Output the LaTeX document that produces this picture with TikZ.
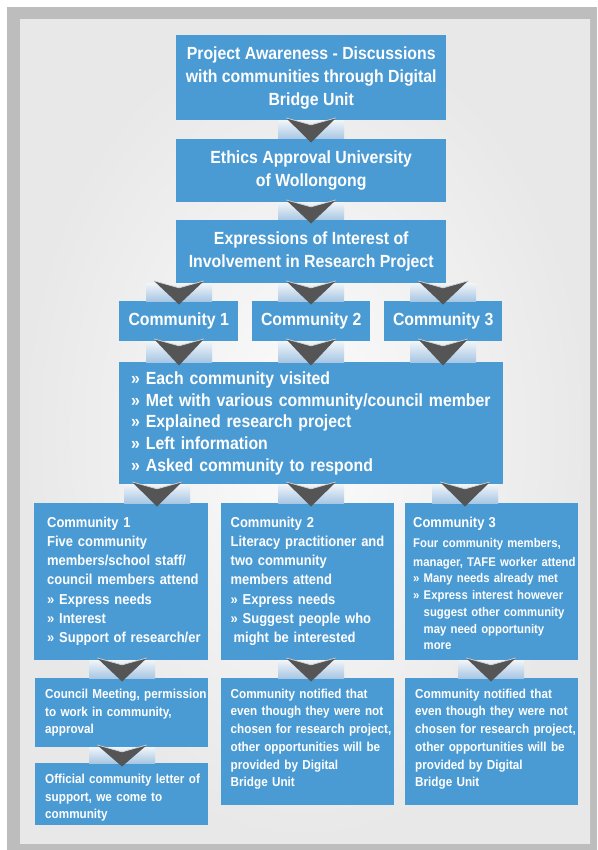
\documentclass[tikz,border=0pt]{standalone}
\usepackage{fontspec}
\setmainfont{Liberation Sans}[FakeStretch=0.9]
\usetikzlibrary{calc}
\definecolor{boxblue}{HTML}{4A9AD4}
\definecolor{chevgray}{HTML}{555555}
\definecolor{linktop}{HTML}{F0F4F8}
\definecolor{linkbot}{HTML}{A8C7E4}
\definecolor{framegray}{HTML}{BDBDBD}
\definecolor{panelin}{HTML}{FCFCFC}
\definecolor{panelout}{HTML}{E8E8E8}

\newcommand{\fTop}{\fontsize{17.6}{23}\selectfont\bfseries}
\newcommand{\fBig}{\fontsize{17.6}{21.8}\selectfont\bfseries}
\newcommand{\fMid}{\fontsize{14.4}{19.2}\selectfont\bfseries}
\newcommand{\fThr}{\fontsize{12.6}{16.7}\selectfont\bfseries}
\newcommand{\fLow}{\fontsize{13}{17.7}\selectfont\bfseries}

\tikzset{
 blk/.style={fill=boxblue, draw=none, text=white, inner sep=0pt},
 cbox/.style={blk, anchor=north west, align=center, font=\fTop},
 lbox/.style={blk, anchor=north west, align=left},
 linkshade/.style={top color=linktop, bottom color=linkbot, draw=none},
 chevfill/.style={fill=chevgray, draw=none},
 chevedge/.style={draw=white!75!chevgray, line width=0.7pt, line join=round},
}

\newcommand{\chevlink}[3]{%
  \path[linkshade] let \p1=(#2.south), \p2=(#3.north) in (#1pt-33pt,\y1) rectangle (#1pt+33pt,\y2);
  \path[chevfill] let \p1=(#2.south), \p2=(#3.north) in (#1pt-25pt,\y1+2.5pt) -- (#1pt,\y1-4.5pt) -- (#1pt+25pt,\y1+2.5pt) -- (#1pt,\y2-3.5pt) -- cycle;
  \path[chevedge] let \p1=(#2.south), \p2=(#3.north) in (#1pt-25pt,\y1+2.5pt) -- (#1pt,\y1-4.5pt) -- (#1pt+25pt,\y1+2.5pt);
}

\begin{document}
\begin{tikzpicture}[x=1pt,y=-1pt]
\useasboundingbox (0,0) rectangle (597,850);
\fill[white] (0,0) rectangle (597,850);
\fill[framegray] (7,7) rectangle (597,850);
\shade[inner color=panelin, outer color=panelout] (20,20) rectangle (590,843);

% top column
\node[cbox, minimum width=270pt, minimum height=85pt] (b1) at (176,35) {Project Awareness - Discussions\\with communities through Digital\\Bridge Unit};
\node[cbox, minimum width=270pt, minimum height=63pt] (b2) at (176,139) {Ethics Approval University\\of Wollongong};
\node[cbox, minimum width=270pt, minimum height=63pt] (b3) at (176,220) {Expressions of Interest of\\Involvement in Research Project};

% community row
\node[cbox, minimum width=119pt, minimum height=40pt] (c1) at (119,301) {Community 1};
\node[cbox, minimum width=118pt, minimum height=40pt] (c2) at (252,301) {Community 2};
\node[cbox, minimum width=118pt, minimum height=40pt] (c3) at (384,301) {Community 3};

% visit box
\node[lbox, font=\fBig, text width=384pt, text height=22pt, text depth=100pt] (big) at (119,362)
 {\leftskip=12pt » Each community visited\\» Met with various community/council member\\» Explained research project\\» Left information\\» Asked community to respond\par};

% lower row
\node[lbox, font=\fMid, text width=174pt, text height=24pt, text depth=133pt] (l1) at (34,503)
 {\leftskip=13pt Community 1\\Five community\\members/school staff/\\council members attend\\» Express needs\\» Interest\\» Support of research/er\par};
\node[lbox, font=\fMid, text width=173pt, text height=24pt, text depth=133pt] (l2) at (221,503)
 {\leftskip=9.5pt Community 2\\Literacy practitioner and\\two community\\members attend\\» Express needs\\» Suggest people who\\\hspace*{3pt}might be interested\par};
\node[lbox, font=\fThr, text width=173pt, text height=24pt, text depth=133pt] (l3) at (405,503)
 {\leftskip=8pt {\fontsize{14.4}{16.7}\selectfont Community 3}\\[3.3pt]Four community members,\\[2.3pt]manager, TAFE worker attend\\» Many needs already met\\» Express interest however\\\hphantom{»\ }suggest other community\\\hphantom{»\ }may need opportunity\\\hphantom{»\ }more\par};

% bottom boxes
\node[lbox, font=\fLow, text width=173pt, text height=20.3pt, text depth=48.7pt] (m1) at (35,678)
 {\leftskip=10pt Council Meeting, permission\\to work in community,\\approval\par};
\node[lbox, font=\fLow, text width=173pt, text height=20.3pt, text depth=41.7pt] (o1) at (35,763)
 {\leftskip=10pt Official community letter of\\support, we come to\\community\par};
\node[lbox, font=\fLow, text width=173pt, text height=20pt, text depth=107pt] (m2) at (221,678)
 {\leftskip=9.5pt Community notified that\\even though they were not\\chosen for research project,\\other opportunities will be\\provided by Digital\\Bridge Unit\par};
\node[lbox, font=\fLow, text width=173pt, text height=20pt, text depth=107pt] (m3) at (405,678)
 {\leftskip=10pt Community notified that\\even though they were not\\chosen for research project,\\other opportunities will be\\provided by Digital\\Bridge Unit\par};

% connectors
\chevlink{311}{b1}{b2}
\chevlink{311}{b2}{b3}
\chevlink{179}{b3}{c1}
\chevlink{311}{b3}{c2}
\chevlink{443}{b3}{c3}
\chevlink{179}{c1}{big}
\chevlink{311}{c2}{big}
\chevlink{443}{c3}{big}
\chevlink{157}{big}{l1}
\chevlink{311}{big}{l2}
\chevlink{465}{big}{l3}
\chevlink{122}{l1}{m1}
\chevlink{122}{m1}{o1}
\chevlink{311}{l2}{m2}
\chevlink{491}{l3}{m3}
\end{tikzpicture}
\end{document}
